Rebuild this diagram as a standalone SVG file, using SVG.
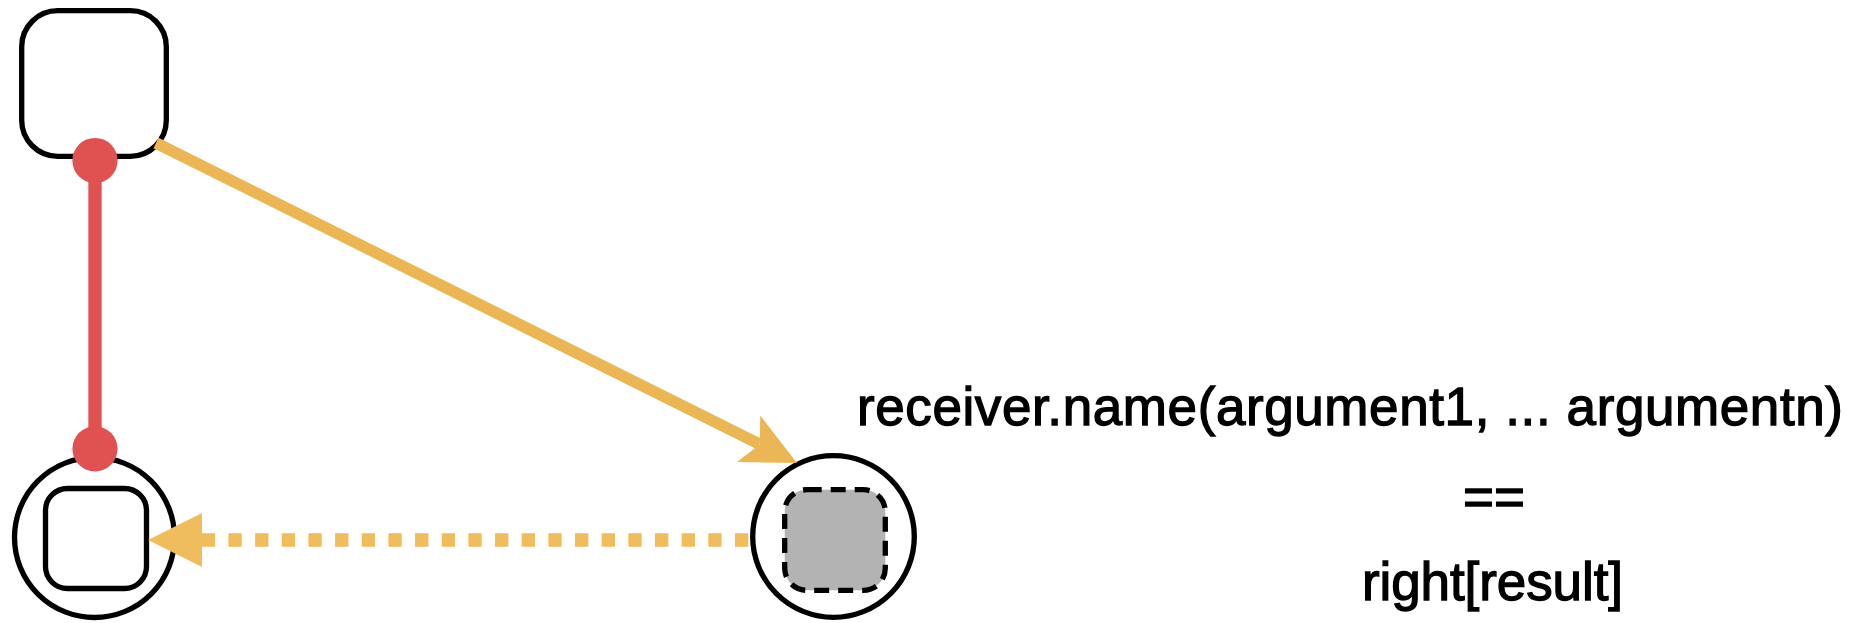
<svg xmlns="http://www.w3.org/2000/svg" width="1860" height="623" viewBox="0 0 1860 623">
  <style>
    .box { fill: #ffffff; stroke: #000000; stroke-width: 5.33; }
    .ring { fill: #ffffff; stroke: #000000; stroke-width: 5.33; }
    .hole { fill: #b3b3b3; stroke: #000000; stroke-width: 5.33; stroke-dasharray: 15 9; }
    .link { stroke: #e05252; stroke-width: 13.33; fill: none; }
    .port { fill: #e05252; }
    .call { stroke: #eab656; stroke-width: 11.5; fill: none; }
    .back { stroke: #f0bd5e; stroke-width: 13.33; fill: none; stroke-dasharray: 13.33 13.33; }
    .label { font-family: "Liberation Sans", Arial, sans-serif; font-size: 53px; fill: #000000; stroke: #000000; stroke-width: 1.3; text-anchor: middle; }
  </style>
  <defs>
    <marker id="classic" markerUnits="userSpaceOnUse" viewBox="-56 -28 58 56" refX="-42" refY="0" markerWidth="58" markerHeight="56" orient="auto">
      <path d="M0,0 L-54,-26 L-41.6,0 L-54,26 Z" fill="#eab656"/>
    </marker>
    <marker id="block" markerUnits="userSpaceOnUse" viewBox="-56 -29 58 58" refX="-54" refY="0" markerWidth="58" markerHeight="58" orient="auto">
      <path d="M0,0 L-54,-27 L-54,27 Z" fill="#f0bd5e"/>
    </marker>
  </defs>

  <!-- object frame -->
  <g id="frame">
    <rect class="box" x="21.7" y="10.7" width="144.6" height="145.6" rx="36" ry="36"/>
  </g>

  <!-- variable holding the result -->
  <g id="result">
    <circle class="ring" cx="94.5" cy="537.5" r="80"/>
    <rect class="box" x="45.5" y="488.5" width="101" height="100" rx="22" ry="22"/>
  </g>

  <!-- method activation with an open slot -->
  <g id="activation">
    <circle class="ring" cx="833.5" cy="536.5" r="80.8"/>
    <rect class="hole" x="784.7" y="489.7" width="100.6" height="100.6" rx="22" ry="22"/>
  </g>

  <!-- connectors -->
  <g id="connectors">
    <line class="link" x1="95" y1="160.5" x2="95" y2="448.8"/>
    <circle class="port" cx="95" cy="160.5" r="22.6"/>
    <circle class="port" cx="95" cy="448.8" r="22.6"/>
    <line class="call" x1="156" y1="143" x2="759.4" y2="444.2" marker-end="url(#classic)"/>
    <line class="back" x1="748.3" y1="540" x2="202" y2="540" marker-end="url(#block)"/>
  </g>

  <!-- expression -->
  <g id="expression">
    <text class="label" x="1350" y="425" textLength="986" lengthAdjust="spacing">receiver.name(argument1, ... argumentn)</text>
    <text class="label" x="1494" y="515">==</text>
    <text class="label" x="1492.5" y="600" textLength="261" lengthAdjust="spacing">right[result]</text>
  </g>
</svg>
